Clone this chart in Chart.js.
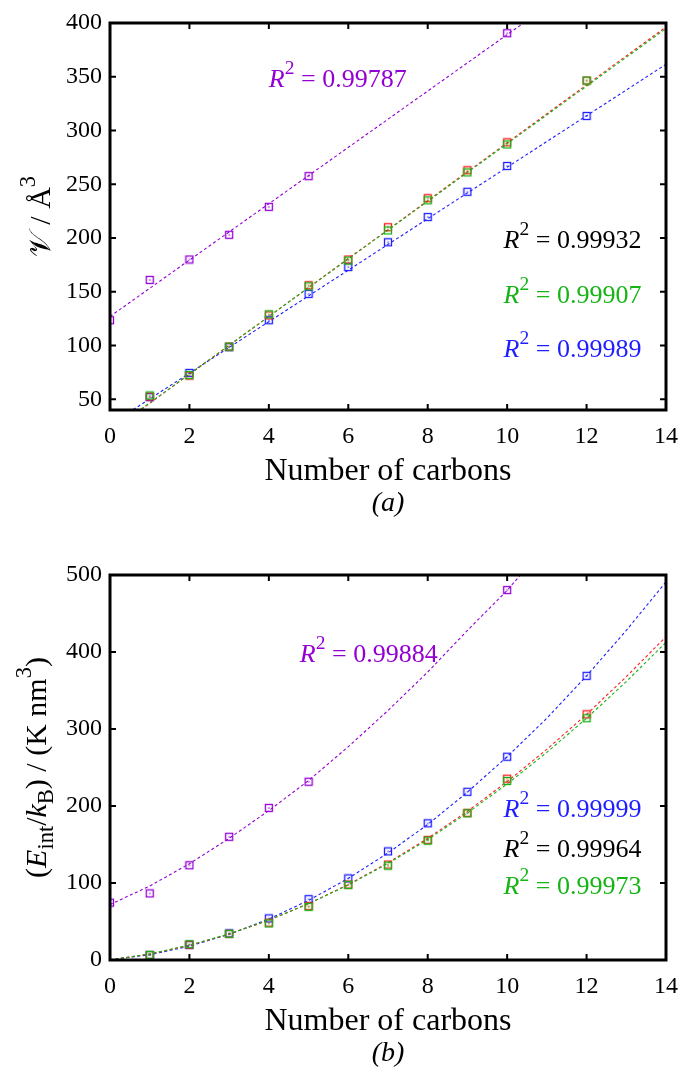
<!DOCTYPE html>
<html><head><meta charset="utf-8">
<script src="https://cdn.jsdelivr.net/npm/chart.js@4.4.0/dist/chart.umd.min.js"></script>
<style>
html,body{margin:0;padding:0;background:#fff;}
#wrap{position:relative;width:690px;height:1071px;overflow:hidden;}
.box{position:absolute;left:0;width:690px;}
</style></head><body>
<div id="wrap">
<div class="box" style="top:0;height:550px"><canvas id="c1"></canvas></div>
<div class="box" style="top:550px;height:521px"><canvas id="c2"></canvas></div>
</div>
<script>
// ---------- DATA ----------
const xTicks = [0, 2, 4, 6, 8, 10, 12, 14];
const yTicksA = [50, 100, 150, 200, 250, 300, 350, 400];
const yTicksB = [0, 100, 200, 300, 400, 500];

// (a) molecular volume
const carbonsPurple = [0, 1, 2, 3, 4, 5, 10];
const carbonsMain = [1, 2, 3, 4, 5, 6, 7, 8, 9, 10, 12];
const volPurple = [123.5, 161, 180, 203, 229, 257.5, 390.5];
const volBlue = [52, 74.5, 98.5, 123.5, 148, 173, 196, 219.5, 243, 267, 313.5];
const volRed = [52.5, 72, 99, 128, 156, 180, 210, 237, 263, 289, 346.5];
const volGreen = [53.5, 72.5, 99, 129, 155, 179, 207, 235, 261, 287, 346.5];
const fitXA = [0, 14];
const volFitPurple = [127, 494];
const volFitBlue = [26.4, 361.6];
const volFitRed = [19.3, 396.3];
const volFitGreen = [19.9, 394.8];

// (b) interaction energy
const enPurple = [74.5, 86.5, 123, 160, 197.5, 231.5, 480.5];
const enBlue = [6.5, 19.5, 34.5, 54, 79, 106, 141, 177.5, 218.5, 264, 369];
const enRed = [6.5, 20, 34, 48.5, 70, 98, 124, 156, 191, 235.5, 319];
const enGreen = [6.5, 20.5, 34, 47.5, 69, 97.5, 122.5, 155, 190.5, 232.5, 314];
const fitXB = [0, 1, 2, 3, 4, 5, 6, 7, 8, 9, 10, 11, 12, 13, 14];
const fitXBPurple = [0, 1, 2, 3, 4, 5, 6, 7, 8, 9, 10, 11];
const enFitPurple = [72, 96, 125, 158, 194, 233, 277, 324, 374, 428, 480, 540];
const enFitBlue = [0.5, 6.8, 17.9, 33.4, 53.2, 77.4, 106, 139, 176, 218, 264, 314, 369, 428, 491];
const enFitRed = [0, 7.8, 19, 33.6, 51.7, 73.1, 98, 126.3, 158, 193.1, 231.6, 273.6, 319, 367.9, 419.9];
const enFitGreen = [0, 8, 19.3, 33.9, 51.8, 73, 97.5, 125.3, 156.4, 190.9, 228.6, 269.6, 314, 361.6, 412.6];

// ---------- STYLE ----------
const SERIF = "'Liberation Serif', 'Times New Roman', serif";
const COL = {purple:'#9400d3', blue:'#1e1eff', red:'#ff1e1e', green:'#16b416', black:'#000000'};

function marker(color){
  const c = document.createElement('canvas'); c.width = 10; c.height = 10;
  const g = c.getContext('2d');
  g.strokeStyle = color; g.lineWidth = 1.3; g.strokeRect(1.5, 1.5, 7, 7);
  g.fillStyle = color; g.fillRect(4.4, 4.4, 1.3, 1.3);
  return c;
}
function zip(xs, ys){ return xs.map((x, i) => ({x: x, y: ys[i]})); }
function pts(xs, ys, color){
  return {data: zip(xs, ys), showLine: false, pointStyle: marker(color), pointRadius: 5,
          borderColor: color, backgroundColor: color};
}
function fit(xs, ys, color){
  return {data: zip(xs, ys), showLine: true, pointRadius: 0, borderColor: color,
          borderWidth: 1.1, borderDash: [3, 2.5], fill: false, tension: 0};
}

function fontStr(italic, size){ return (italic ? 'italic ' : '') + size + 'px ' + SERIF; }
function segSize(seg, size){ return seg[2] ? size * 0.75 : size; }
function richWidth(ctx, segs, size){
  let w = 0;
  segs.forEach(s => { ctx.font = fontStr(s[1], segSize(s, size)); w += ctx.measureText(s[0]).width; });
  return w;
}
function drawRich(ctx, segs, x, y, size, color, align){
  const w = richWidth(ctx, segs, size);
  let cx = align === 'right' ? x - w : (align === 'center' ? x - w / 2 : x);
  ctx.fillStyle = color; ctx.textBaseline = 'alphabetic'; ctx.textAlign = 'left';
  segs.forEach(s => {
    const sz = segSize(s, size);
    ctx.font = fontStr(s[1], sz);
    const dy = s[2] === 'sup' ? -size * 0.5 : (s[2] === 'sub' ? size * 0.22 : 0);
    ctx.fillText(s[0], cx, y + dy);
    cx += ctx.measureText(s[0]).width;
  });
}

const decorPlugin = {
  id: 'decor',
  afterDraw(chart, args, o){
    const ctx = chart.ctx, a = chart.chartArea, xs = chart.scales.x, ys = chart.scales.y;
    ctx.save();
    // inward ticks on all four sides
    ctx.strokeStyle = '#000'; ctx.lineWidth = 2;
    const L = 6;
    xs.ticks.forEach(t => {
      const p = xs.getPixelForValue(t.value);
      ctx.beginPath(); ctx.moveTo(p, a.bottom); ctx.lineTo(p, a.bottom - L);
      ctx.moveTo(p, a.top); ctx.lineTo(p, a.top + L); ctx.stroke();
    });
    ys.ticks.forEach(t => {
      const p = ys.getPixelForValue(t.value);
      ctx.beginPath(); ctx.moveTo(a.left, p); ctx.lineTo(a.left + L, p);
      ctx.moveTo(a.right, p); ctx.lineTo(a.right - L, p); ctx.stroke();
    });
    ctx.lineWidth = 3;
    ctx.strokeRect(a.left, a.top, a.right - a.left, a.bottom - a.top);
    // R^2 annotations
    o.notes.forEach(n => {
      drawRich(ctx, [['R', true], ['2', false, 'sup'], [' = ' + n.text, false]],
               xs.getPixelForValue(n.x), ys.getPixelForValue(n.y), 26, n.color, n.align);
    });
    // x title and caption
    const mid = (a.left + a.right) / 2;
    drawRich(ctx, [['Number of carbons', false]], mid, a.bottom + 70, 32, '#000', 'center');
    drawRich(ctx, [[o.caption, true]], mid, a.bottom + 101, 28, '#000', 'center');
    // y title (rotated)
    ctx.translate(o.yTitleX, (a.top + a.bottom) / 2);
    ctx.rotate(-Math.PI / 2);
    drawRich(ctx, o.yTitle, 0, 0, 30, '#000', 'center');
    ctx.restore();
  }
};

function makeOptions(cfg){
  return {
    responsive: true, maintainAspectRatio: false, animation: false,
    layout: {padding: {top: cfg.padTop, right: 18, left: 0, bottom: 0}},
    plugins: {legend: {display: false}, tooltip: {enabled: false}, decor: cfg.decor},
    scales: {
      x: {type: 'linear', min: 0, max: 14,
          grid: {display: false, drawTicks: false}, border: {display: false},
          afterBuildTicks: s => { s.ticks = xTicks.map(v => ({value: v})); },
          afterFit: s => { s.height = cfg.xH; },
          ticks: {font: {family: SERIF, size: 24}, color: '#000', padding: 12, maxRotation: 0, autoSkip: false,
                  callback: v => String(v)}},
      y: {type: 'linear', min: cfg.ymin, max: cfg.ymax,
          grid: {display: false, drawTicks: false}, border: {display: false},
          afterBuildTicks: s => { s.ticks = cfg.yTicks.map(v => ({value: v})); },
          afterFit: s => { s.width = 110; },
          ticks: {font: {family: SERIF, size: 24}, color: '#000', padding: 8, autoSkip: false,
                  callback: v => String(v)}}
    }
  };
}

new Chart(document.getElementById('c1'), {
  type: 'scatter',
  data: {datasets: [
    pts(carbonsMain, volGreen, COL.green),
    pts(carbonsMain, volRed, COL.red),
    pts(carbonsMain, volBlue, COL.blue),
    pts(carbonsPurple, volPurple, COL.purple),
    fit(fitXA, volFitGreen, COL.green),
    fit(fitXA, volFitRed, COL.red),
    fit(fitXA, volFitBlue, COL.blue),
    fit(fitXA, volFitPurple, COL.purple)
  ]},
  options: makeOptions({padTop: 23, xH: 140, ymin: 40, ymax: 400, yTicks: yTicksA,
    decor: {caption: '(a)', yTitleX: 50,
      yTitle: [['\u{1D4B1}', false], [' / ', false], ['\u00C5', false], ['3', false, 'sup']],
      notes: [
        {text: '0.99787', x: 4.0, y: 340.5, color: COL.purple, align: 'left'},
        {text: '0.99932', x: 13.38, y: 190.7, color: COL.black, align: 'right'},
        {text: '0.99907', x: 13.38, y: 139.5, color: COL.green, align: 'right'},
        {text: '0.99989', x: 13.38, y: 89.3, color: COL.blue, align: 'right'}
      ]}}),
  plugins: [decorPlugin]
});

new Chart(document.getElementById('c2'), {
  type: 'scatter',
  data: {datasets: [
    pts(carbonsMain, enGreen, COL.green),
    pts(carbonsMain, enRed, COL.red),
    pts(carbonsMain, enBlue, COL.blue),
    pts(carbonsPurple, enPurple, COL.purple),
    fit(fitXB, enFitGreen, COL.green),
    fit(fitXB, enFitRed, COL.red),
    fit(fitXB, enFitBlue, COL.blue),
    fit(fitXBPurple, enFitPurple, COL.purple)
  ]},
  options: makeOptions({padTop: 25, xH: 111, ymin: 0, ymax: 500, yTicks: yTicksB,
    decor: {caption: '(b)', yTitleX: 46,
      yTitle: [['(', false], ['E', true], ['int', false, 'sub'], ['/', false], ['k', true], ['B', false, 'sub'],
               [') / (K nm', false], ['3', false, 'sup'], [')', false]],
      notes: [
        {text: '0.99884', x: 4.78, y: 387, color: COL.purple, align: 'left'},
        {text: '0.99999', x: 13.38, y: 185.7, color: COL.blue, align: 'right'},
        {text: '0.99964', x: 13.38, y: 133.8, color: COL.black, align: 'right'},
        {text: '0.99973', x: 13.38, y: 85.7, color: COL.green, align: 'right'}
      ]}}),
  plugins: [decorPlugin]
});
</script>
</body></html>
